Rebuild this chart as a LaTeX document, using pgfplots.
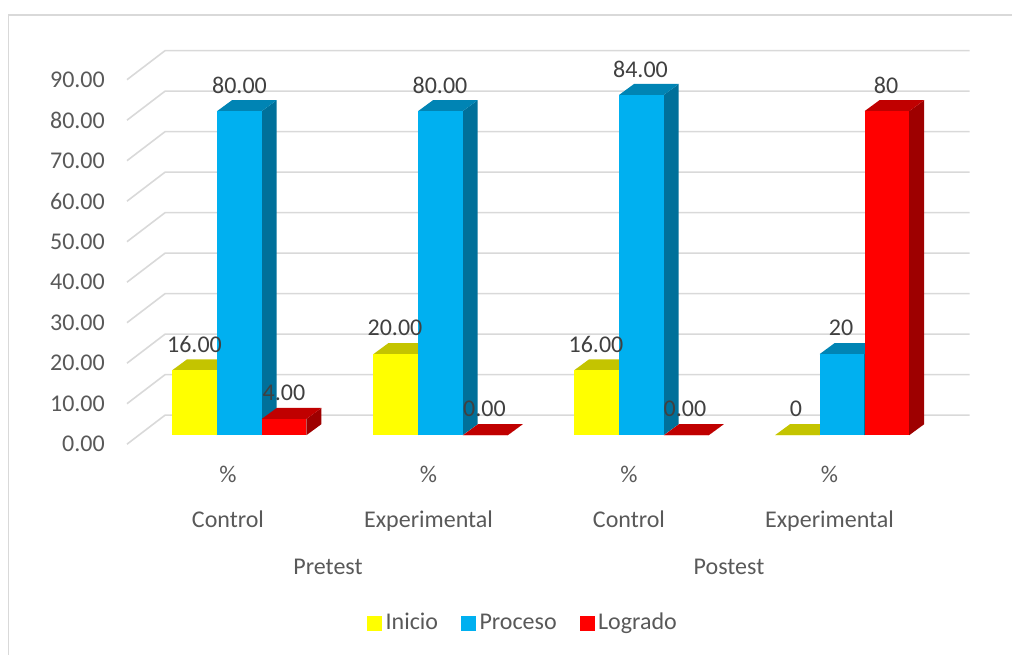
\documentclass[border=0pt]{standalone}
\usepackage{fontspec}
\setmainfont{Carlito}
\usepackage{pgfplots}
\pgfplotsset{compat=1.18}

\definecolor{gridc}{HTML}{D9D9D9}
\definecolor{tickc}{HTML}{595959}
\definecolor{labc}{HTML}{404040}
\definecolor{yfront}{HTML}{FFFF00}
\definecolor{ytop}{HTML}{C4C400}
\definecolor{bfront}{HTML}{00B0F0}
\definecolor{btop}{HTML}{0084B4}
\definecolor{bside}{HTML}{00709A}
\definecolor{rfront}{HTML}{FF0000}
\definecolor{rtop}{HTML}{C00000}
\definecolor{rside}{HTML}{9E0000}

\newcommand{\chartfont}{\fontsize{24}{28}\selectfont}

% back wall line with its diagonal to the front plane
\newcommand{\gridline}[1]{%
  \pgfmathsetmacro{\ya}{#1-2.22}\pgfmathsetmacro{\yb}{#1+4.94}%
  \addplot[gridc,line width=1.6pt,forget plot] coordinates {(127,\ya) (165,\yb) (969.5,\yb)};}

% one 3D bar: left x, value, colours of front, top, side
\newcommand{\drawbar}[5]{%
  \pgfmathsetmacro{\xr}{#1+44.7}\pgfmathsetmacro{\xa}{#1+15}\pgfmathsetmacro{\xb}{#1+59.7}%
  \pgfmathsetmacro{\yt}{#2+2.72}%
  \addplot[fill=#5,draw=none,forget plot] coordinates {(\xr,0) (\xb,2.72) (\xb,\yt) (\xr,#2)};
  \addplot[fill=#4,draw=none,forget plot] coordinates {(#1,#2) (\xa,\yt) (\xb,\yt) (\xr,#2)};
  \addplot[fill=#3,draw=none,forget plot] coordinates {(#1,0) (\xr,0) (\xr,#2) (#1,#2)};}

\begin{document}
\begin{tikzpicture}[x=1pt,y=1pt]
\path[use as bounding box] (-127pt,-219.8pt) rectangle (885pt,435.2pt);
\begin{axis}[
  x=1pt,y=4.05pt,
  xmin=127,xmax=970,ymin=0,ymax=95,
  clip=false,
  axis line style={draw=none},
  tick style={draw=none},
  ytick={0,10,...,90},
  xtick={228,428.5,629,829.5},
  xticklabels={\%,\%,\%,\%},
  tick label style={font=\chartfont,text=tickc,inner sep=0pt},
  yticklabel style={anchor=east,xshift=-22pt,yshift=-9pt},
  xticklabel style={anchor=center,yshift=-39.5pt},
  /pgf/number format/.cd,fixed,fixed zerofill,precision=2,assume math mode=true,
  /pgfplots/.cd,
  legend columns=3,
  legend style={at={(axis cs:523,-46.5)},anchor=center,draw=none,fill=none,
    font=\chartfont,text=tickc,inner sep=0pt,
    nodes={text height=16pt,text depth=5pt},
    /tikz/every even column/.style={column sep=21pt},
    /tikz/every odd column/.style={column sep=2pt}},
  legend image code/.code={\fill[#1] (0pt,-7pt) rectangle (14pt,7pt);},
  every node near coord/.append style={font=\chartfont,text=labc,anchor=center,yshift=26pt,inner sep=0pt},
]
\gridline{0}\gridline{10}\gridline{20}\gridline{30}\gridline{40}
\gridline{50}\gridline{60}\gridline{70}\gridline{80}\gridline{90}

\drawbar{172}{16}{yfront}{ytop}{ytop}
\drawbar{217}{80}{bfront}{btop}{bside}
\drawbar{261.7}{4}{rfront}{rtop}{rside}

\drawbar{373.3}{20}{yfront}{ytop}{ytop}
\drawbar{418}{80}{bfront}{btop}{bside}
\drawbar{463}{0}{rfront}{rtop}{rside}

\drawbar{574}{16}{yfront}{ytop}{ytop}
\drawbar{619}{84}{bfront}{btop}{bside}
\drawbar{664}{0}{rfront}{rtop}{rside}

\drawbar{775}{0}{yfront}{ytop}{ytop}
\drawbar{819.5}{20}{bfront}{btop}{bside}
\drawbar{864.5}{80}{rfront}{rtop}{rside}

\addplot[draw=none,forget plot,nodes near coords,point meta=explicit symbolic]
  table[meta=lab] {
x y lab
194.5 16 16.00
239.5 80 80.00
284 4 4.00
395 20 20.00
440 80 80.00
484.5 0 0.00
596 16 16.00
640.5 84 84.00
685 0 0.00
796 0 0
841 20 20
886 80 80
};

\addlegendimage{yfront}\addlegendentry{Inicio}
\addlegendimage{bfront}\addlegendentry{Proceso}
\addlegendimage{rfront}\addlegendentry{Logrado}

\draw[gridc,line width=1.5pt] (axis cs:8.7,-54.32) -- (axis cs:8.7,103.8) -- (axis cs:1012,103.8);

\node[font=\chartfont,text=tickc,anchor=base] at (axis cs:228,-22.84) {Control};
\node[font=\chartfont,text=tickc,anchor=base] at (axis cs:428.5,-22.84) {Experimental};
\node[font=\chartfont,text=tickc,anchor=base] at (axis cs:629,-22.84) {Control};
\node[font=\chartfont,text=tickc,anchor=base] at (axis cs:829.5,-22.84) {Experimental};
\node[font=\chartfont,text=tickc,anchor=base] at (axis cs:328,-34.32) {Pretest};
\node[font=\chartfont,text=tickc,anchor=base] at (axis cs:729,-34.32) {Postest};
\end{axis}
\end{tikzpicture}
\end{document}
